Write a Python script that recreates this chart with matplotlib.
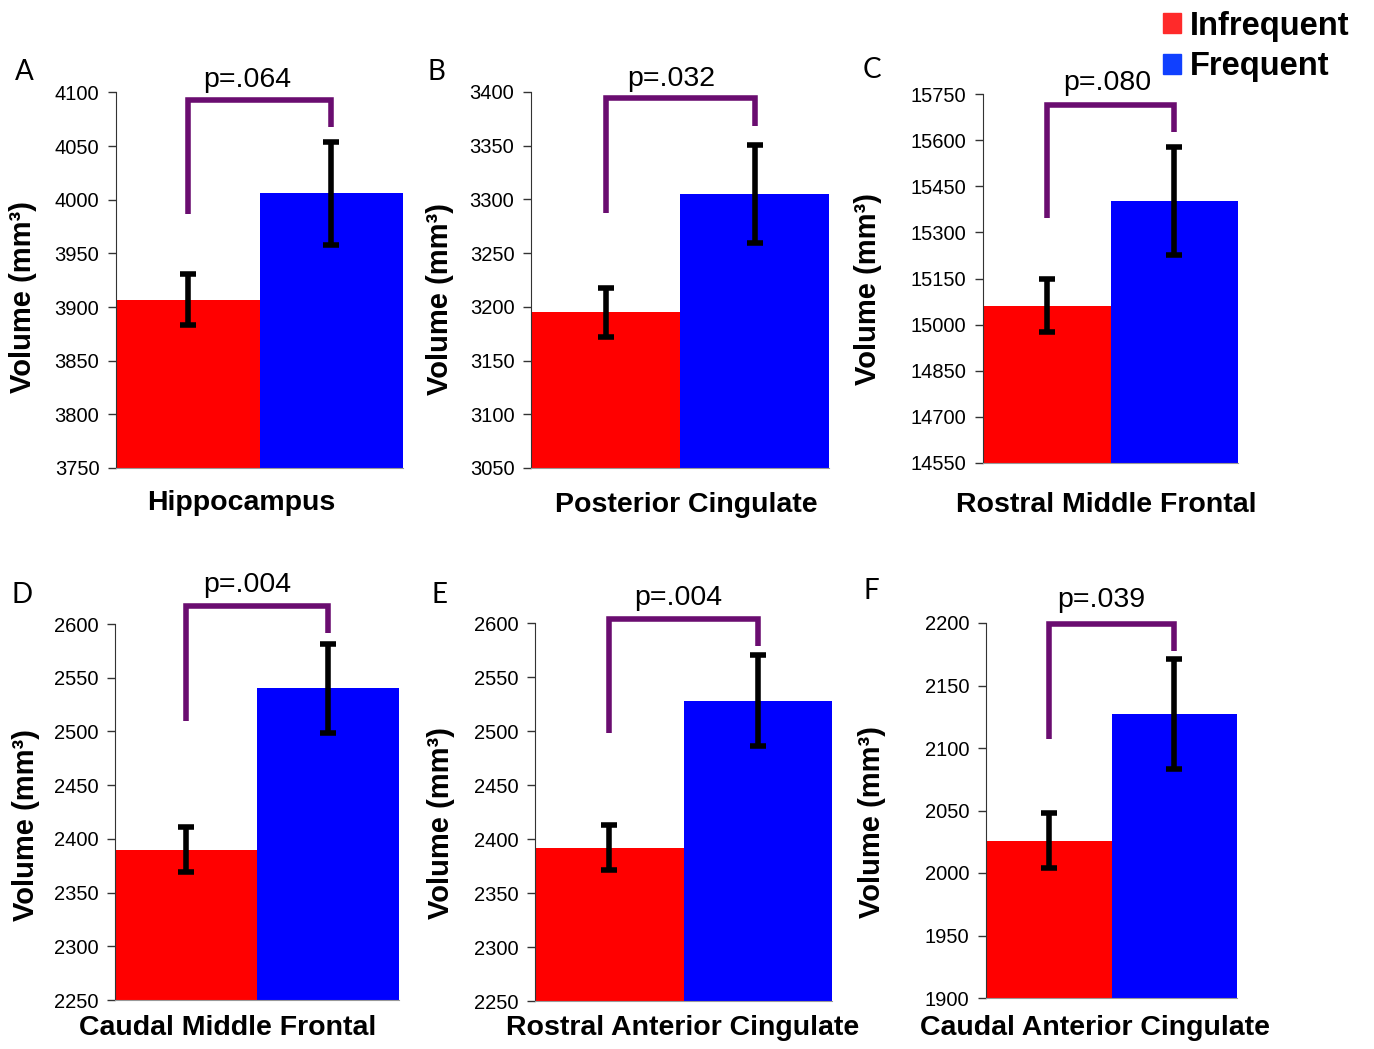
import numpy as np
import matplotlib
matplotlib.use("Agg")
import matplotlib.pyplot as plt
from matplotlib.patches import Patch

W, H = 1374, 1049

# Data
panels = ["A", "B", "C", "D", "E", "F"]
regions = ["Hippocampus", "Posterior Cingulate", "Rostral Middle Frontal",
           "Caudal Middle Frontal", "Rostral Anterior Cingulate", "Caudal Anterior Cingulate"]
p_values = ["p=.064", "p=.032", "p=.080", "p=.004", "p=.004", "p=.039"]
infrequent = [3907, 3195, 15062, 2390, 2392, 2026]
infrequent_err = [24, 23, 86, 21, 21, 22]
frequent = [4006, 3305, 15402, 2540, 2528, 2127]
frequent_err = [48, 46, 176, 41, 42, 44]
y_min = [3750, 3050, 14550, 2250, 2250, 1900]
y_max = [4100, 3400, 15750, 2600, 2600, 2200]
y_step = [50, 50, 150, 50, 50, 50]
# bracket: top, left leg end, right leg end (data units)
bracket_top = [4093, 3394, 15714, 2617, 2604, 2199.5]
bracket_left = [3987, 3287, 15346, 2510, 2498, 2107]
bracket_right = [4068, 3368, 15628, 2592, 2579, 2178]

# layout in pixels (left, top, right, bottom)
boxes = [(116, 92.5, 403, 468), (531, 92, 829, 468), (983, 94, 1238, 463),
         (115, 624, 399, 1000), (535, 623, 832, 1001), (986, 623, 1237, 998)]
letter_pos = [(24, 72), (436, 72), (872, 70), (22, 595), (440, 595), (871, 591)]
p_pos = [(247, 87), (671, 86), (1107, 90), (247, 592), (678, 605), (1101, 607)]
xlab_pos = [(241, 503), (686, 505), (1106, 505), (228, 1028), (683, 1028), (1095, 1028)]
ylab_pos = [(23, 297), (440, 299), (868, 289), (26, 825), (441, 823), (872, 822)]

RED, BLUE, PURPLE = "#ff0000", "#0000ff", "#6a0d70"
plt.rcParams["font.family"] = ["Liberation Sans", "DejaVu Sans"]

fig = plt.figure(figsize=(W / 100, H / 100), dpi=100)


def fx(x):
    return x / W


def fy(y):
    return 1 - y / H


for i in range(6):
    l, t, r, b = boxes[i]
    ax = fig.add_axes([fx(l), fy(b), (r - l) / W, (b - t) / H])
    ax.bar([0, 1], [infrequent[i], frequent[i]], width=1.0, color=[RED, BLUE], zorder=2)
    ax.errorbar([0, 1], [infrequent[i], frequent[i]], yerr=[infrequent_err[i], frequent_err[i]],
                fmt="none", ecolor="black", elinewidth=4, capsize=6, capthick=4, zorder=3)
    ax.plot([0, 0, 1, 1], [bracket_left[i], bracket_top[i], bracket_top[i], bracket_right[i]],
            color=PURPLE, lw=4, clip_on=False, solid_joinstyle="miter", solid_capstyle="butt", zorder=4)
    ax.set_xlim(-0.5, 1.5)
    ax.set_ylim(y_min[i], y_max[i])
    ax.set_yticks(np.arange(y_min[i], y_max[i] + 1, y_step[i]))
    ax.set_xticks([])
    for s in ["top", "right"]:
        ax.spines[s].set_visible(False)
    ax.spines["left"].set_color("#333333")
    ax.spines["bottom"].set_color("#999999")
    ax.tick_params(axis="y", labelsize=14.5, length=6, width=1, color="#333333", pad=6)

    fig.text(fx(letter_pos[i][0]), fy(letter_pos[i][1]), panels[i], fontsize=20,
             ha="center", va="center", family=["Lato", "DejaVu Sans"])
    fig.text(fx(p_pos[i][0]), fy(p_pos[i][1]), p_values[i], fontsize=20.5, ha="center", va="baseline")
    fig.text(fx(xlab_pos[i][0]), fy(xlab_pos[i][1]), regions[i], fontsize=20.5, fontweight="bold",
             ha="center", va="center")
    fig.text(fx(ylab_pos[i][0]), fy(ylab_pos[i][1]), "Volume (mm³)", fontsize=21, fontweight="bold",
             ha="center", va="center", rotation=90)

handles = [Patch(color="#ff2a2a", label="Infrequent"), Patch(color="#1040ff", label="Frequent")]
fig.legend(handles=handles, loc="upper left", bbox_to_anchor=(fx(1143), fy(-9)), frameon=False,
           prop={"weight": "bold", "size": 23.5}, handlelength=0.55, handleheight=0.55,
           handletextpad=0.3, labelspacing=0.3, borderpad=0.1)

fig.savefig("out.png", dpi=100)
